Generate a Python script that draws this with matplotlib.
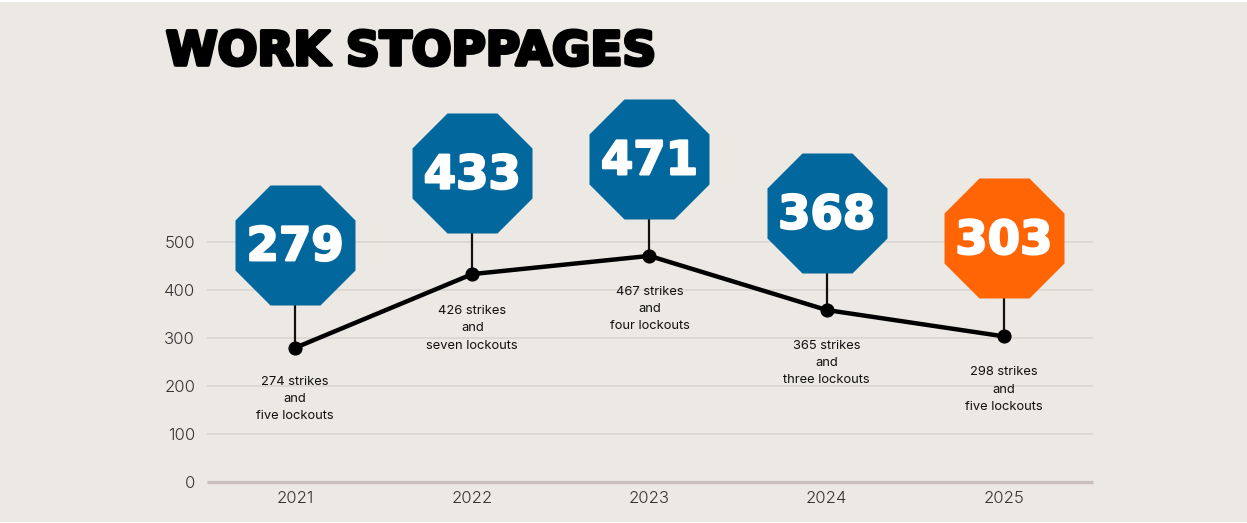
import matplotlib
matplotlib.use("Agg")
import matplotlib.pyplot as plt
import matplotlib.patheffects as pe
from matplotlib.transforms import ScaledTranslation
from matplotlib.patches import Rectangle

years = ["2021", "2022", "2023", "2024", "2025"]
totals = [279, 433, 471, 368, 303]
line_values = [279, 433, 471, 358, 303]
notes = [
    "274 strikes\nand\nfive lockouts",
    "426 strikes\nand\nseven lockouts",
    "467 strikes\nand\nfour lockouts",
    "365 strikes\nand\nthree lockouts",
    "298 strikes\nand\nfive lockouts",
]
sign_colors = ["#02679C", "#02679C", "#02679C", "#02679C", "#FF6405"]
yticks = [0, 100, 200, 300, 400, 500]
title = "WORK STOPPAGES"

# layout, in pixels at dpi 100
W, H = 1247, 523
sign_gap = [103, 101, 97, 97, 98]
note_gap = [28, 31, 30, 30, 30]
BG = "#ECE9E4"

fig = plt.figure(figsize=(W / 100, H / 100), dpi=100, facecolor="white")
fig.add_artist(Rectangle((0, 1 / H), 1, (H - 3) / H, transform=fig.transFigure,
                         facecolor=BG, edgecolor="none", zorder=-5))

left, right, y0, y500 = 207, 1093, 481.5, 242.0
ppu = (y0 - y500) / 500
top_val = (y0 - 20) / ppu
ax = fig.add_axes([left / W, (H - y0) / H, (right - left) / W, (y0 - 20) / H])
ax.patch.set_alpha(0)
ax.set_xlim(-0.497, 4.503)
ax.set_ylim(0, top_val)
for s in ax.spines.values():
    s.set_visible(False)
ax.spines["bottom"].set_visible(True)
ax.spines["bottom"].set_color("#C9BEBB")
ax.spines["bottom"].set_linewidth(2.4)
ax.spines["bottom"].set_capstyle("butt")
ax.set_yticks(yticks)
ax.set_xticks(range(len(years)), years)
ax.tick_params(length=0)
ax.tick_params(axis="y", pad=8.5, labelsize=12, labelcolor="#333333")
ax.tick_params(axis="x", pad=7, labelsize=12, labelcolor="#333333")
for lab in ax.get_xticklabels() + ax.get_yticklabels():
    lab.set_family(["Inter", "DejaVu Sans"])
    lab.set_fontweight(300)
ax.set_axisbelow(True)
ax.grid(axis="y", color="#D8D4CE", linewidth=1.1)

xs = list(range(len(years)))
ax.plot(xs, line_values, color="black", lw=3.2, zorder=4, solid_capstyle="round", clip_on=False)
ax.plot(xs, line_values, "o", color="black", ms=9.2, zorder=5, clip_on=False)

for x, v, lv, gap, ngap, col, note in zip(xs, totals, line_values, sign_gap, note_gap, sign_colors, notes):
    up = ScaledTranslation(0, gap * 0.72 / 72, fig.dpi_scale_trans)
    ax.plot([x, x], [lv, lv + gap / ppu], color="#111111", lw=1.6, zorder=3, clip_on=False)
    ax.plot([x], [lv], marker="8", ms=93.6, mfc=col, mec="none", zorder=6, clip_on=False,
            transform=ax.transData + up)
    ax.annotate(str(v), (x, lv), xytext=(0, (gap + 2) * 0.72), textcoords="offset points",
                ha="center", va="center_baseline", color="white", fontsize=33.5,
                family="DejaVu Sans", fontweight="bold", zorder=7,
                path_effects=[pe.withStroke(linewidth=1.6, foreground="white")])
    ax.annotate(note, (x, lv), xytext=(0, -ngap * 0.72), textcoords="offset points",
                ha="center", va="top", color="#111111", fontsize=9.3, linespacing=1.58,
                family=["Inter", "DejaVu Sans"], zorder=7)

fig.text(166 / W, (H - 65) / H, title, ha="left", va="baseline", fontsize=33.7,
         family="DejaVu Sans", fontweight="bold", color="black",
         path_effects=[pe.withStroke(linewidth=2.6, foreground="black")])

fig.savefig("out.png", dpi=100, facecolor=fig.get_facecolor())
